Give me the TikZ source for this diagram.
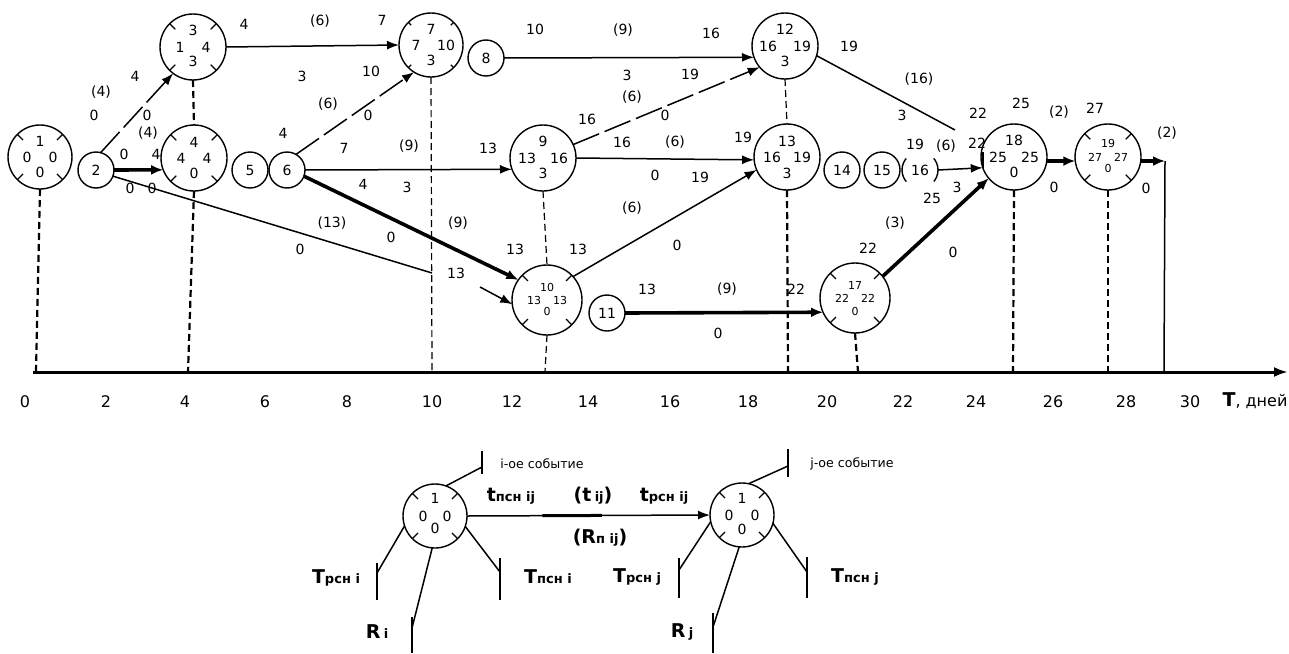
\documentclass[tikz,border=0pt]{standalone}
\usepackage{fontspec}
\setmainfont{DejaVu Sans}
\usetikzlibrary{arrows.meta,calc}
\newcommand{\evdt}{8pt}
\newcommand{\evdb}{7.5pt}
\newcommand{\evdx}{6.5pt}
\newcommand{\evnode}[9]{%
  \node[evc,minimum size=#4] (#1) at (#2,#3) {};
  \node[#9] (#1-t) at ([yshift=\evdt]#1.center) {#5};
  \node[#9] (#1-l) at ([xshift=-\evdx]#1.center) {#6};
  \node[#9] (#1-r) at ([xshift=\evdx]#1.center) {#7};
  \node[#9] (#1-b) at ([yshift=-\evdb]#1.center) {#8};
}
\newcommand{\evticks}[2]{%
  \foreach \a in {45,135,225,315}{\draw[tick] (#1.\a) -- ($(#1.\a)!#2!(#1.center)$);}
}
\begin{document}
\begin{tikzpicture}[x=0.5pt,y=-0.5pt,
  evc/.style={circle,draw,line width=0.7pt,inner sep=0pt,outer sep=0pt},
  sc/.style={circle,draw,line width=0.7pt,inner sep=0pt,outer sep=0pt,minimum size=18pt,font=\fontsize{7}{8}\selectfont},
  evt/.style={inner sep=0pt,font=\fontsize{7}{8}\selectfont},
  evts/.style={inner sep=0pt,font=\fontsize{5.5}{6}\selectfont},
  lbl/.style={inner sep=0pt,font=\fontsize{7}{8}\selectfont},
  axl/.style={inner sep=0pt,font=\fontsize{8}{9}\selectfont},
  legs/.style={inner sep=0pt,font=\fontsize{6.3}{7}\selectfont},
  leg/.style={inner sep=0pt},
  edge/.style={line width=0.75pt},
  arr/.style={edge,-{Latex[length=6pt,width=4.5pt]}},
  thickarr/.style={line width=1.8pt,-{Latex[length=6pt,width=5pt]}},
  broken/.style={dash pattern=on 14pt off 3pt},
  vd/.style={line width=1.1pt,dash pattern=on 3.5pt off 2pt},
  vdt/.style={line width=0.6pt,dash pattern=on 3.5pt off 2pt},
  tick/.style={line width=0.6pt},
]
\useasboundingbox (0,0) rectangle (1289,653);

% ---------- events ----------
\evnode{n1}{40}{157}{32pt}{1}{0}{0}{0}{evt}
\evticks{n1}{4pt}
\node[sc] (n2) at (96,170) {2};
\renewcommand{\evdt}{8.5pt}\renewcommand{\evdb}{7pt}
\evnode{n3}{193}{47}{33pt}{3}{1}{4}{3}{evt}
\evticks{n3}{4pt}
\renewcommand{\evdt}{8pt}\renewcommand{\evdb}{7.5pt}
\evnode{n4}{194}{158}{33pt}{4}{4}{4}{0}{evt}
\evticks{n4}{4pt}
\node[sc] (n5) at (250,170) {5};
\node[sc] (n6) at (287,170) {6};
\renewcommand{\evdx}{7.5pt}
\evnode{n7}{431}{45}{32pt}{7}{7}{10}{3}{evt}
\evticks{n7}{2pt}
\node[sc] (n8) at (486,58) {8};
\renewcommand{\evdt}{8.5pt}\renewcommand{\evdx}{8pt}
\evnode{n9}{543}{158}{33pt}{9}{13}{16}{3}{evt}
\renewcommand{\evdt}{6.5pt}\renewcommand{\evdb}{5.5pt}\renewcommand{\evdx}{6.5pt}
\evnode{n10}{547}{300}{35pt}{10}{13}{13}{0}{evts}
\evticks{n10}{4pt}
\node[sc] (n11) at (607,313) {11};
\renewcommand{\evdt}{8.5pt}\renewcommand{\evdb}{7.5pt}\renewcommand{\evdx}{8.5pt}
\evnode{n12}{785}{46}{33pt}{12}{16}{19}{3}{evt}
\renewcommand{\evdt}{8pt}\renewcommand{\evdb}{8pt}\renewcommand{\evdx}{7.5pt}
\evnode{n13}{787}{157}{33pt}{13}{16}{19}{3}{evt}
\node[sc] (n14) at (842,170) {14};
\node[sc] (n15) at (882,170) {15};
\node[sc,dash pattern=on 12.566pt off 15.708pt,dash phase=6.283pt] (n16) at (920,170) {16};
\renewcommand{\evdt}{6.5pt}\renewcommand{\evdb}{6.5pt}\renewcommand{\evdx}{6.5pt}
\evnode{n17}{855}{298}{35pt}{17}{22}{22}{0}{evts}
\evticks{n17}{4pt}
\renewcommand{\evdt}{8.5pt}\renewcommand{\evdb}{7.5pt}\renewcommand{\evdx}{8pt}
\evnode{n18}{1014}{157}{33pt}{18}{25}{25}{0}{evt}
\renewcommand{\evdt}{7pt}\renewcommand{\evdb}{5.5pt}\renewcommand{\evdx}{6.5pt}
\evnode{n19}{1108}{157}{33pt}{19}{27}{27}{0}{evts}
\evticks{n19}{4pt}

% ---------- axis ----------
\coordinate (axS) at (33,372);
\coordinate (axE) at (1288,372);
\coordinate (a0) at (36,372);
\coordinate (a4) at (188,372);
\coordinate (a7) at (432,372);
\coordinate (a10) at (545,372);
\coordinate (a13) at (788,372);
\coordinate (a17) at (858,372);
\coordinate (a18) at (1013,372);
\coordinate (a19) at (1108,372);
\coordinate (aEnd) at (1164,372);
\draw[line width=1.5pt,-{Latex[length=7pt,width=5pt]}] (axS) -- (axE);

\draw[vd] (n1.south) -- (a0);
\draw[vd] (n3.south) -- (n4.north);
\draw[vd] (n4.south) -- (a4);
\draw[vdt] (n7.south) -- (a7);
\draw[vdt] (n9.south) -- (n10.north);
\draw[vdt] (n10.south) -- (a10);
\draw[vdt] (n12.south) -- (n13.north);
\draw[vd] (n13.south) -- (a13);
\draw[vd] (n17.south) -- (a17);
\draw[vd] (n18.south) -- (a18);
\draw[vd] (n19.south) -- (a19);

\node[axl] (t0) at (25,402) {0};
\node[axl] (t2) at (106,402) {2};
\node[axl] (t4) at (185,402) {4};
\node[axl] (t6) at (265,402) {6};
\node[axl] (t8) at (347,402) {8};
\node[axl] (t10) at (432,402) {10};
\node[axl] (t12) at (512,402) {12};
\node[axl] (t14) at (588,402) {14};
\node[axl] (t16) at (670,402) {16};
\node[axl] (t18) at (748,402) {18};
\node[axl] (t20) at (827,402) {20};
\node[axl] (t22) at (903,402) {22};
\node[axl] (t24) at (976,402) {24};
\node[axl] (t26) at (1053,402) {26};
\node[axl] (t28) at (1126,402) {28};
\node[axl] (t30) at (1190,402) {30};
\node[axl] (tT) at (1255,401) {{\fontsize{9.5}{10}\selectfont\bfseries T}, дней};

% ---------- free points ----------
\coordinate (c2e) at (432,273);
\coordinate (c10s) at (480,287);
\coordinate (c12e) at (955,130);
\coordinate (c19e) at (1165,161);

% ---------- activities ----------
\draw[arr,broken] (n2.75) -- (n3.233);
\draw[thickarr] (n2.east) -- (n4.201);
\draw[edge] (n2.-20) -- (c2e);
\draw[arr] (c10s) -- (n10.187);
\draw[arr] (n3.east) -- (n7.west);
\draw[arr,broken] (n6.60) -- (n7.238);
\draw[arr] (n6.east) -- (n9.200);
\draw[thickarr] (n6.-20) -- (n10.145);
\draw[arr] (n8.east) -- (n12.200);
\draw[arr,broken] (n9.24) -- (n12.220);
\draw[arr] (n9.east) -- (n13.185);
\draw[arr] (n10.42) -- (n13.203);
\draw[thickarr] (n11.east) -- (n17.204);
\draw[edge] (n12.-17) -- (c12e);
\draw[arr] (n16.east) -- (n18.199);
\draw[edge] (n18.199) -- ++(0,-16);
\draw[thickarr] (n17.38) -- (n18.220);
\draw[thickarr] (n18.-7) -- (n19.187);
\draw[thickarr] (n19.-7) -- (c19e);
\draw[edge] (c19e) -- (aEnd);

% ---------- activity labels ----------
\node[lbl] (l1) at (244,24) {4};
\node[lbl] (l2) at (320,21) {(6)};
\node[lbl] (l3) at (382,20) {7};
\node[lbl] (l4) at (135,76) {4};
\node[lbl] (l5) at (101,92) {(4)};
\node[lbl] (l6) at (94,115) {0};
\node[lbl] (l7) at (147,115) {0};
\node[lbl] (l8) at (148,133) {(4)};
\node[lbl] (l9) at (124,154) {0};
\node[lbl] (l10) at (156,154) {4};
\node[lbl] (l11) at (130,188) {0};
\node[lbl] (l12) at (152,188) {0};
\node[lbl] (l13) at (302,76) {3};
\node[lbl] (l14) at (283,133) {4};
\node[lbl] (l15) at (328,104) {(6)};
\node[lbl] (l16) at (371,71) {10};
\node[lbl] (l17) at (368,115) {0};
\node[lbl] (l18) at (344,148) {7};
\node[lbl] (l19) at (409,146) {(9)};
\node[lbl] (l20) at (488,148) {13};
\node[lbl] (l21) at (363,184) {4};
\node[lbl] (l22) at (407,187) {3};
\node[lbl] (l23) at (332,223) {(13)};
\node[lbl] (l24) at (300,249) {0};
\node[lbl] (l25) at (391,237) {0};
\node[lbl] (l26) at (458,223) {(9)};
\node[lbl] (l27) at (456,273) {13};
\node[lbl] (l28) at (515,249) {13};
\node[lbl] (l29) at (578,249) {13};
\node[lbl] (l30) at (535,29) {10};
\node[lbl] (l31) at (623,30) {(9)};
\node[lbl] (l32) at (711,33) {16};
\node[lbl] (l33) at (587,119) {16};
\node[lbl] (l34) at (627,75) {3};
\node[lbl] (l35) at (632,97) {(6)};
\node[lbl] (l36) at (690,74) {19};
\node[lbl] (l37) at (665,115) {0};
\node[lbl] (l38) at (622,142) {16};
\node[lbl] (l39) at (675,142) {(6)};
\node[lbl] (l40) at (743,137) {19};
\node[lbl] (l41) at (655,175) {0};
\node[lbl] (l42) at (700,177) {19};
\node[lbl] (l43) at (632,208) {(6)};
\node[lbl] (l44) at (677,245) {0};
\node[lbl] (l45) at (647,289) {13};
\node[lbl] (l46) at (727,289) {(9)};
\node[lbl] (l47) at (796,289) {22};
\node[lbl] (l48) at (718,333) {0};
\node[lbl] (l49) at (849,46) {19};
\node[lbl] (l50) at (919,79) {(16)};
\node[lbl] (l51) at (902,115) {3};
\node[lbl] (l52) at (915,144) {19};
\node[lbl] (l53) at (946,146) {(6)};
\node[lbl] (l54) at (977,143) {22};
\node[lbl] (l55) at (978,113) {22};
\node[lbl] (l56) at (1021,103) {25};
\node[lbl] (l57) at (932,198) {25};
\node[lbl] (l58) at (957,187) {3};
\node[lbl] (l59) at (895,223) {(3)};
\node[lbl] (l60) at (868,248) {22};
\node[lbl] (l61) at (953,252) {0};
\node[lbl] (l62) at (1059,112) {(2)};
\node[lbl] (l63) at (1095,108) {27};
\node[lbl] (l64) at (1054,187) {0};
\node[lbl] (l65) at (1167,133) {(2)};
\node[lbl] (l66) at (1146,188) {0};

% ---------- legend ----------
\renewcommand{\evdt}{9pt}\renewcommand{\evdb}{6pt}\renewcommand{\evdx}{6pt}
\evnode{L1}{435}{516}{32pt}{1}{0}{0}{0}{evt}
\evticks{L1}{4pt}
\renewcommand{\evdt}{8.5pt}\renewcommand{\evdb}{7pt}\renewcommand{\evdx}{6.5pt}
\evnode{L2}{742}{515}{32pt}{1}{0}{0}{0}{evt}
\evticks{L2}{4pt}

\draw[arr] (L1.east) -- (L2.west);
\draw[line width=1.5pt] ($(L1.east)!0.31!(L2.west)$) -- ($(L1.east)!0.555!(L2.west)$);

\coordinate (p1) at (482,467);
\coordinate (p2) at (377,573);
\coordinate (p3) at (412,628);
\coordinate (p4) at (500,572);
\coordinate (q1) at (788,466);
\coordinate (q2) at (679,570);
\coordinate (q3) at (713,627);
\coordinate (q4) at (807,572);
\draw[edge] (L1.70) -- (p1);
\draw[edge] (482,451) -- (482,474);
\draw[edge] (L1.198) -- (p2);
\draw[edge] (377,563) -- (377,600);
\draw[edge] (L1.265) -- (p3);
\draw[edge] (412,617) -- (412,653);
\draw[edge] (L1.-19) -- (p4);
\draw[edge] (500,558) -- (500,600);
\draw[edge] (L2.78) -- (q1);
\draw[edge] (788,449) -- (788,477);
\draw[edge] (L2.192) -- (q2);
\draw[edge] (679,558) -- (679,598);
\draw[edge] (L2.265) -- (q3);
\draw[edge] (713,613) -- (713,653);
\draw[edge] (L2.-15) -- (q4);
\draw[edge] (807,557) -- (807,598);

\node[legs,anchor=west] (g1) at (500,464) {i-ое событие};
\node[legs,anchor=west] (g2) at (810,464) {j-ое событие};
\newcommand{\BT}[1]{{\fontsize{9.5}{10}\selectfont\bfseries #1}}
\newcommand{\ST}[1]{{\fontsize{6.5}{7}\selectfont\bfseries #1}}
\node[leg] (g3) at (511,496) {\BT{t}\ST{псн ij}};
\node[leg] (g4) at (593,496) {\BT{(t}\,\ST{ij}\BT{)}};
\node[leg] (g5) at (664,496) {\BT{t}\ST{рсн ij}};
\node[leg] (g6) at (600,538) {\BT{(R}\ST{п ij}\BT{)}};
\node[leg] (g7) at (336,578) {\BT{T}\ST{рсн i}};
\node[leg] (g8) at (377,632) {\BT{R}\,\ST{i}};
\node[leg] (g9) at (548,577) {\BT{T}\ST{псн i}};
\node[leg] (g10) at (637,577) {\BT{T}\ST{рсн j}};
\node[leg] (g11) at (682,632) {\BT{R}\,\ST{j}};
\node[leg] (g12) at (855,577) {\BT{T}\ST{псн j}};
\end{tikzpicture}
\end{document}
